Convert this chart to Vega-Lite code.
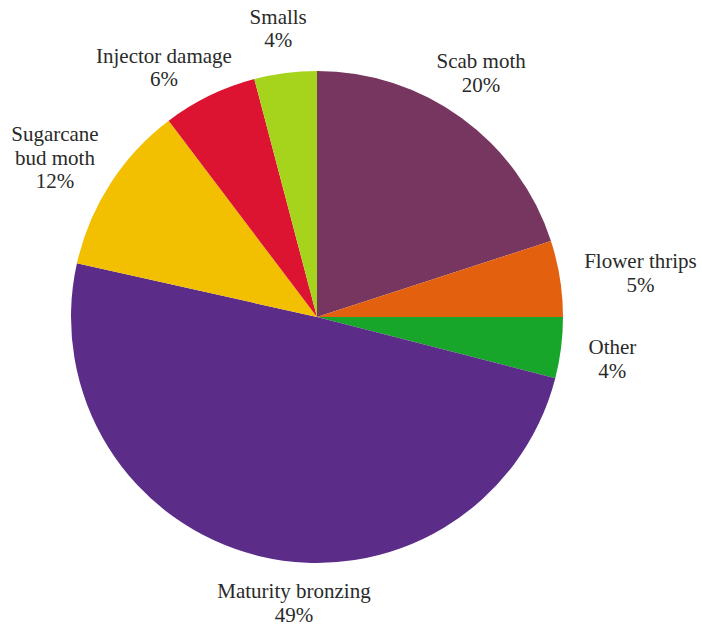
{
  "$schema": "https://vega.github.io/schema/vega-lite/v6.json",
  "width": 634,
  "height": 620,
  "autosize": {"type": "none"},
  "padding": {"left": 0, "top": 7, "right": 68, "bottom": 0},
  "background": "white",
  "view": {"stroke": null},
  "config": {
    "text": {
      "font": "Liberation Serif",
      "fontSize": 21,
      "fill": "#2a2a2a",
      "lineBreak": "\n",
      "lineHeight": 23.5,
      "align": "center",
      "baseline": "middle"
    }
  },
  "data": {
    "values": [
      {"cause": "Scab moth", "value": 20, "order": 1, "label": "Scab moth\n20%"},
      {"cause": "Flower thrips", "value": 5, "order": 2, "label": "Flower thrips\n5%"},
      {"cause": "Other", "value": 4, "order": 3, "label": "Other\n4%"},
      {"cause": "Maturity bronzing", "value": 49.5, "order": 4, "label": "Maturity bronzing\n49%"},
      {"cause": "Sugarcane bud moth", "value": 11.2, "order": 5, "label": "Sugarcane\nbud moth\n12%"},
      {"cause": "Injector damage", "value": 6.2, "order": 6, "label": "Injector damage\n6%"},
      {"cause": "Smalls", "value": 4.1, "order": 7, "label": "Smalls\n4%"}
    ]
  },
  "encoding": {
    "theta": {"field": "value", "type": "quantitative", "stack": true},
    "order": {"field": "order", "type": "quantitative"}
  },
  "layer": [
    {
      "mark": {"type": "arc", "outerRadius": 246, "stroke": null},
      "encoding": {
        "color": {
          "field": "cause",
          "type": "nominal",
          "legend": null,
          "scale": {
            "domain": ["Scab moth", "Flower thrips", "Other", "Maturity bronzing", "Sugarcane bud moth", "Injector damage", "Smalls"],
            "range": ["#76365f", "#e3600f", "#17a52a", "#5b2d88", "#f2c000", "#dc1432", "#a6d41c"]
          }
        }
      }
    },
    {
      "mark": {"type": "text", "radius": 303, "thetaOffset": -0.056},
      "encoding": {
        "text": {"condition": {"test": "datum.cause === 'Scab moth'", "field": "label", "type": "nominal"}, "value": ""}
      }
    },
    {
      "mark": {"type": "text", "radius": 328, "thetaOffset": -0.01},
      "encoding": {
        "text": {"condition": {"test": "datum.cause === 'Flower thrips'", "field": "label", "type": "nominal"}, "value": ""}
      }
    },
    {
      "mark": {"type": "text", "radius": 297, "thetaOffset": -0.021},
      "encoding": {
        "text": {"condition": {"test": "datum.cause === 'Other'", "field": "label", "type": "nominal"}, "value": ""}
      }
    },
    {
      "mark": {"type": "text", "radius": 276, "thetaOffset": -0.152},
      "encoding": {
        "text": {"condition": {"test": "datum.cause === 'Maturity bronzing'", "field": "label", "type": "nominal"}, "value": ""}
      }
    },
    {
      "mark": {"type": "text", "radius": 319, "thetaOffset": 0.035},
      "encoding": {
        "text": {"condition": {"test": "datum.cause === 'Sugarcane bud moth'", "field": "label", "type": "nominal"}, "value": ""}
      }
    },
    {
      "mark": {"type": "text", "radius": 302, "thetaOffset": -0.079},
      "encoding": {
        "text": {"condition": {"test": "datum.cause === 'Injector damage'", "field": "label", "type": "nominal"}, "value": ""}
      }
    },
    {
      "mark": {"type": "text", "radius": 302, "thetaOffset": 0},
      "encoding": {
        "text": {"condition": {"test": "datum.cause === 'Smalls'", "field": "label", "type": "nominal"}, "value": ""}
      }
    }
  ]
}
